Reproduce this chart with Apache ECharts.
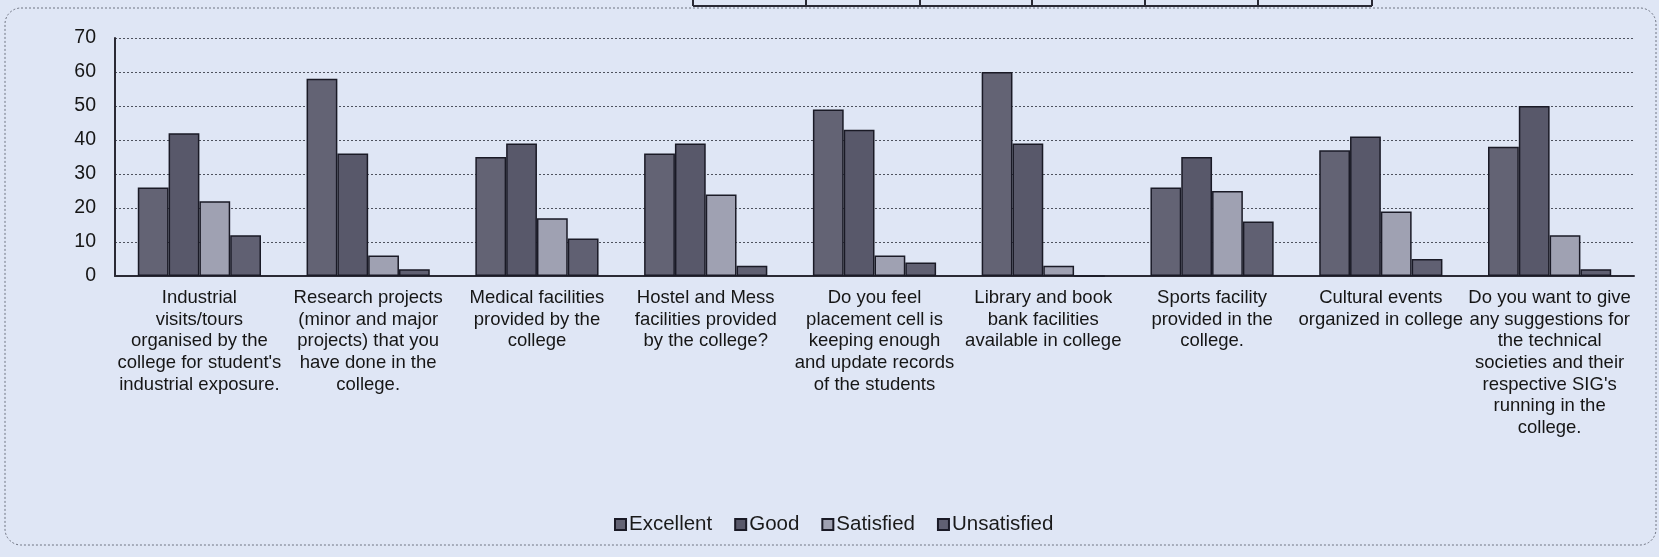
<!DOCTYPE html>
<html>
<head>
<meta charset="utf-8">
<script src="https://cdn.jsdelivr.net/npm/echarts@6/dist/echarts.min.js"></script>
<style>
  html, body { margin: 0; padding: 0; background: #dfe6f5; }
  #chart { width: 1659px; height: 557px; }
</style>
</head>
<body>
<div id="chart"></div>
<script>
// Category (tick) labels, wrapped as in the reference
const categories = [
  "Industrial\nvisits/tours\norganised by the\ncollege for student's\nindustrial exposure.",
  "Research projects\n(minor and major\nprojects) that you\nhave done in the\ncollege.",
  "Medical facilities\nprovided by the\ncollege",
  "Hostel and Mess\nfacilities provided\nby the college?",
  "Do you feel\nplacement cell is\nkeeping enough\nand update records\nof the students",
  "Library and book\nbank facilities\navailable in college",
  "Sports facility\nprovided in the\ncollege.",
  "Cultural events\norganized in college",
  "Do you want to give\nany suggestions for\nthe technical\nsocieties and their\nrespective SIG's\nrunning in the\ncollege."
];

const seriesNames = ["Excellent", "Good", "Satisfied", "Unsatisfied"];

const excellent   = [26, 58, 35, 36, 49, 60, 26, 37, 38];
const good        = [42, 36, 39, 39, 43, 39, 35, 41, 50];
const satisfied   = [22, 6, 17, 24, 6, 3, 25, 19, 12];
const unsatisfied = [12, 2, 11, 3, 4, 0, 16, 5, 2];

const yTicks = { min: 0, max: 70, interval: 10 };

const colors = ['#636374', '#58586a', '#9fa1b2', '#606072'];
const values = [excellent, good, satisfied, unsatisfied];
const FONT = "'Liberation Sans', Arial, sans-serif";

const chart = echarts.init(document.getElementById('chart'), null, { renderer: 'canvas' });

// decorative scan elements: rounded dotted frame and the bottom of a table above
const tableX = [693, 806, 920, 1032, 1145, 1258, 1372];
const graphics = [
  {
    type: 'rect', silent: true, z: -1,
    shape: { x: 5, y: 8, width: 1651, height: 537, r: 16 },
    style: { fill: 'none', stroke: '#6f7482', lineWidth: 1, lineDash: [2, 2] }
  },
  {
    type: 'line', silent: true,
    shape: { x1: tableX[0], y1: 6, x2: tableX[tableX.length - 1], y2: 6 },
    style: { stroke: '#2a2a35', lineWidth: 2 }
  }
];
tableX.forEach(x => graphics.push({
  type: 'line', silent: true,
  shape: { x1: x, y1: 0, x2: x, y2: 6 },
  style: { stroke: '#2a2a35', lineWidth: 2 }
}));

chart.setOption({
  backgroundColor: '#dfe6f5',
  animation: false,
  textStyle: { fontFamily: FONT },
  graphic: graphics,
  legend: {
    data: seriesNames,
    left: 609,
    top: 509,
    itemWidth: 11,
    itemHeight: 11,
    itemGap: 22,
    icon: 'rect',
    textStyle: { fontSize: 20.5, color: '#1a1a1a', fontFamily: FONT, padding: [0, 0, 0, -2] }
  },
  grid: {
    left: 115,
    right: 25,
    top: 38,
    bottom: 281,
    containLabel: false
  },
  xAxis: {
    type: 'category',
    data: categories,
    axisLine: { show: true, lineStyle: { color: '#2a2a35', width: 2 } },
    axisTick: { show: false },
    axisLabel: {
      interval: 0,
      margin: 11,
      fontSize: 18.5,
      lineHeight: 21.7,
      color: '#161616',
      fontFamily: FONT,
      align: 'center'
    },
    splitLine: { show: false }
  },
  yAxis: {
    type: 'value',
    min: yTicks.min,
    max: yTicks.max,
    interval: yTicks.interval,
    axisLine: { show: true, lineStyle: { color: '#2a2a35', width: 2 } },
    axisTick: { show: false },
    axisLabel: { fontSize: 19.5, color: '#161616', margin: 19, fontFamily: FONT },
    splitLine: { show: true, lineStyle: { color: '#4e525e', type: [2, 2], width: 1 } }
  },
  series: seriesNames.map((name, i) => ({
    name: name,
    type: 'bar',
    data: values[i],
    barGap: '0%',
    barCategoryGap: '27%',
    itemStyle: {
      color: colors[i],
      borderColor: '#1a1a26',
      borderWidth: 1.5
    }
  }))
});
</script>
</body>
</html>
